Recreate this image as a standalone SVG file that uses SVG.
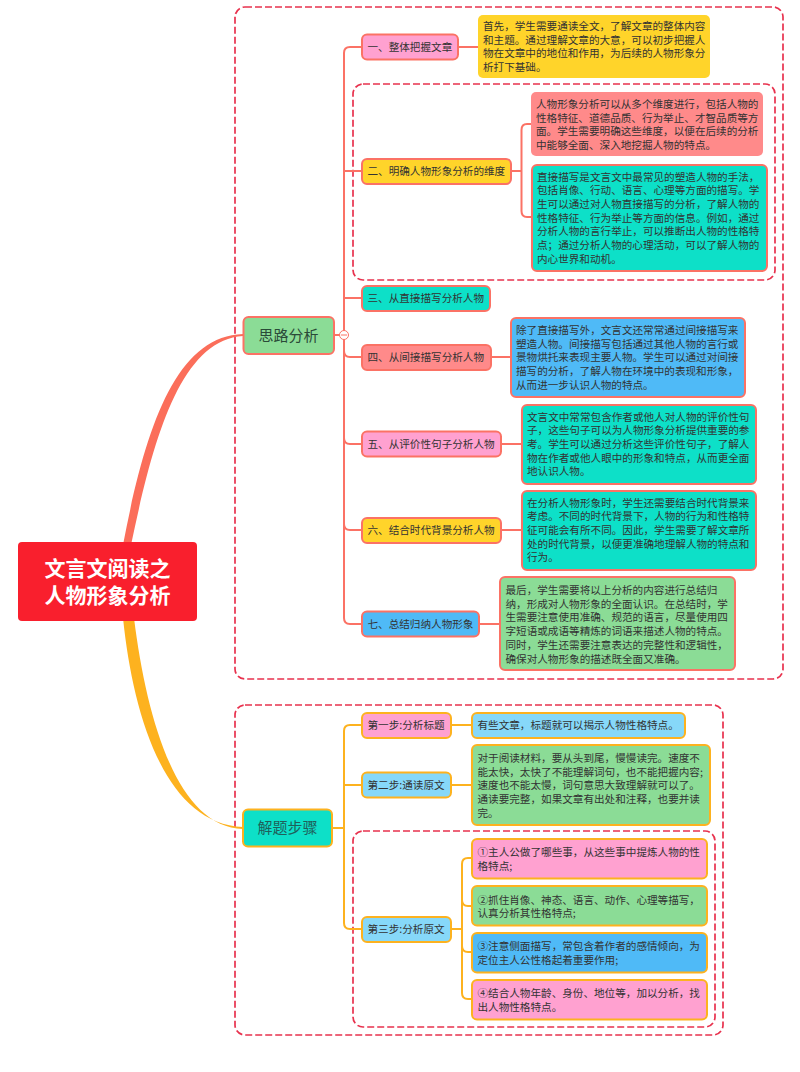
<svg xmlns="http://www.w3.org/2000/svg" width="800" height="1072" viewBox="0 0 800 1072">
<style>
text{font-family:"Noto Sans CJK SC","Noto Sans",sans-serif;font-size:10.6px;fill:#333}
.m{font-size:15px;text-anchor:middle;fill:#2a4a38}
.r{font-size:21px;font-weight:700;fill:#fff;text-anchor:middle}
.dash{fill:none;stroke:#e8324e;stroke-width:1.7;stroke-dasharray:7 3}
.lr{fill:none;stroke:#fb7265;stroke-width:2}
.lo{fill:none;stroke:#fdb21f;stroke-width:2}
.n{stroke-width:2}
.sr{stroke:#fb7265}.so{stroke:#fdb21f}
.pink{fill:#ffa1d0}.yel{fill:#ffd42a}.sal{fill:#ff8a8a}.teal{fill:#0de0c8}.blue{fill:#4fbaf7}.grn{fill:#8bdc96}.lb{fill:#86d8f9}
</style>
<g id="frames">
<rect class="dash" x="235" y="7" width="548" height="672" rx="10"/>
<rect class="dash" x="353" y="84" width="422" height="196" rx="10"/>
<rect class="dash" x="235" y="705" width="488" height="330" rx="10"/>
<rect class="dash" x="353" y="831" width="362" height="196" rx="10"/>
</g>
<g id="connectors">
<path d="M123 545C145 430 175 336 243 334V336C180 340 153 440 131 545Z" fill="#fb6e5a"/>
<path d="M123 618C133 715 165 824 243 827V829C178 827 147 722 134 618Z" fill="#fdb21f"/>
<path class="lr" d="M334 335H344M458 47H478M511 171H522M491 357H511M501 444H522M501 530H522M479 624H500"/>
<path class="lr" d="M362 47H350Q344 47 344 53V618Q344 624 350 624H362M344 171H362M344 298H362M344 351Q344 357 350 357H362M344 438Q344 444 350 444H362M344 524Q344 530 350 530H362"/>
<path class="lr" d="M531 124H527Q521.500 124 521.500 130V211Q521.500 217 527 217H532"/>
<path class="lo" d="M332 828H344M451 725H472M451 785H472M451 929H462"/>
<path class="lo" d="M362 725H350Q344 725 344 731V923Q344 929 350 929H362M344 785H362"/>
<path class="lo" d="M472 858H468Q462 858 462 864V993Q462 999 468 999H472M462 900Q462 906 468 906H472M462 946Q462 952 468 952H472"/>
<circle cx="344" cy="335" r="4.500" fill="#fff" stroke="#fb7265"/>
<path d="M341 335H347" stroke="#fb7265" fill="none"/>
</g>
<g id="root"><rect x="18" y="542" width="179" height="79" rx="4" fill="#f91f2d"/><text class="r"><tspan x="107.500" y="575.500">文言文阅读之</tspan><tspan x="107.500" y="602.500">人物形象分析</tspan></text></g>
<g id="n-silu"><rect class="n sr grn" x="243.500" y="317" width="90.500" height="37" rx="5"/><text class="m" x="288.500" y="340.500">思路分析</text></g>
<g id="n-jieti"><rect class="n so teal" x="243" y="809.500" width="89" height="37" rx="5"/><text class="m" x="287.500" y="833" style="fill:#1f5f5a">解题步骤</text></g>
<g id="n1"><rect class="n sr pink" x="362" y="34.500" width="96" height="25" rx="5"/><text x="367.500" y="51">一、整体把握文章</text></g>
<g id="n1a"><rect class="yel" x="478" y="15" width="232" height="63" rx="5"/><text x="483" y="30">首先，学生需要通读全文，了解文章的整体内容</text><text x="483" y="43.700">和主题。通过理解文章的大意，可以初步把握人</text><text x="483" y="57.400">物在文章中的地位和作用，为后续的人物形象分</text><text x="483" y="71.100">析打下基础。</text></g>
<g id="n2"><rect class="n sr yel" x="362" y="159" width="149" height="25" rx="5"/><text x="367.500" y="175">二、明确人物形象分析的维度</text></g>
<g id="n2a"><rect class="sal" x="531" y="92" width="232" height="64" rx="5"/><text x="536" y="108">人物形象分析可以从多个维度进行，包括人物的</text><text x="536" y="121.700">性格特征、道德品质、行为举止、才智品质等方</text><text x="536" y="135.400">面。学生需要明确这些维度，以便在后续的分析</text><text x="536" y="149.100">中能够全面、深入地挖掘人物的特点。</text></g>
<g id="n2b"><rect class="n sr teal" x="532" y="165" width="235" height="106" rx="5"/><text x="537" y="180.500">直接描写是文言文中最常见的塑造人物的手法，</text><text x="537" y="194.200">包括肖像、行动、语言、心理等方面的描写。学</text><text x="537" y="207.900">生可以通过对人物直接描写的分析，了解人物的</text><text x="537" y="221.600">性格特征、行为举止等方面的信息。例如，通过</text><text x="537" y="235.300">分析人物的言行举止，可以推断出人物的性格特</text><text x="537" y="249">点；通过分析人物的心理活动，可以了解人物的</text><text x="537" y="262.700">内心世界和动机。</text></g>
<g id="n3"><rect class="n sr teal" x="362" y="286" width="128" height="25" rx="5"/><text x="367.500" y="302">三、从直接描写分析人物</text></g>
<g id="n4"><rect class="n sr sal" x="362" y="345" width="129" height="25" rx="5"/><text x="367.500" y="361">四、从间接描写分析人物</text></g>
<g id="n4a"><rect class="n sr blue" x="511" y="318" width="234" height="79" rx="5"/><text x="516" y="334">除了直接描写外，文言文还常常通过间接描写来</text><text x="516" y="347.700">塑造人物。间接描写包括通过其他人物的言行或</text><text x="516" y="361.400">景物烘托来表现主要人物。学生可以通过对间接</text><text x="516" y="375.100">描写的分析，了解人物在环境中的表现和形象，</text><text x="516" y="388.800">从而进一步认识人物的特点。</text></g>
<g id="n5"><rect class="n sr pink" x="362" y="431.500" width="139" height="25" rx="5"/><text x="367.500" y="448">五、从评价性句子分析人物</text></g>
<g id="n5a"><rect class="n sr teal" x="522" y="405" width="234" height="79" rx="5"/><text x="527" y="420.500">文言文中常常包含作者或他人对人物的评价性句</text><text x="527" y="434.200">子，这些句子可以为人物形象分析提供重要的参</text><text x="527" y="447.900">考。学生可以通过分析这些评价性句子，了解人</text><text x="527" y="461.600">物在作者或他人眼中的形象和特点，从而更全面</text><text x="527" y="475.300">地认识人物。</text></g>
<g id="n6"><rect class="n sr yel" x="362" y="518" width="139" height="25" rx="5"/><text x="367.500" y="534">六、结合时代背景分析人物</text></g>
<g id="n6a"><rect class="n sr teal" x="522" y="491" width="234" height="79" rx="5"/><text x="527" y="506.500">在分析人物形象时，学生还需要结合时代背景来</text><text x="527" y="520.200">考虑。不同的时代背景下，人物的行为和性格特</text><text x="527" y="533.900">征可能会有所不同。因此，学生需要了解文章所</text><text x="527" y="547.600">处的时代背景，以便更准确地理解人物的特点和</text><text x="527" y="561.300">行为。</text></g>
<g id="n7"><rect class="n sr blue" x="362" y="611.500" width="117" height="25" rx="5"/><text x="367.500" y="628">七、总结归纳人物形象</text></g>
<g id="n7a"><rect class="n sr grn" x="500" y="577" width="235" height="93" rx="5"/><text x="505.500" y="594">最后，学生需要将以上分析的内容进行总结归</text><text x="505.500" y="607.700">纳，形成对人物形象的全面认识。在总结时，学</text><text x="505.500" y="621.400">生需要注意使用准确、规范的语言，尽量使用四</text><text x="505.500" y="635.100">字短语或成语等精炼的词语来描述人物的特点。</text><text x="505.500" y="648.800">同时，学生还需要注意表达的完整性和逻辑性，</text><text x="505.500" y="662.500">确保对人物形象的描述既全面又准确。</text></g>
<g id="s1"><rect class="n so pink" x="362" y="713" width="89" height="25" rx="5"/><text x="367.500" y="729">第一步:分析标题</text></g>
<g id="s1a"><rect class="n so lb" x="472" y="713" width="213" height="25" rx="5"/><text x="477.500" y="729">有些文章，标题就可以揭示人物性格特点。</text></g>
<g id="s2"><rect class="n so lb" x="362" y="772.500" width="89" height="25" rx="5"/><text x="367.500" y="789">第二步:通读原文</text></g>
<g id="s2a"><rect class="n so grn" x="472" y="745" width="238" height="80" rx="5"/><text x="477.500" y="762">对于阅读材料，要从头到尾，慢慢读完。速度不</text><text x="477.500" y="775.700">能太快，太快了不能理解词句，也不能把握内容;</text><text x="477.500" y="789.400">速度也不能太慢，词句意思大致理解就可以了。</text><text x="477.500" y="803.100">通读要完整，如果文章有出处和注释，也要并读</text><text x="477.500" y="816.800">完。</text></g>
<g id="s3"><rect class="n so lb" x="362" y="917" width="89" height="25" rx="5"/><text x="367.500" y="933">第三步:分析原文</text></g>
<g id="s3a"><rect class="n so pink" x="472" y="839" width="235" height="39.500" rx="5"/><text x="477.500" y="856">①主人公做了哪些事，从这些事中提炼人物的性</text><text x="477.500" y="870">格特点;</text></g>
<g id="s3b"><rect class="n so grn" x="472" y="886" width="235" height="39.500" rx="5"/><text x="477.500" y="903.500">②抓住肖像、神态、语言、动作、心理等描写，</text><text x="477.500" y="917">认真分析其性格特点;</text></g>
<g id="s3c"><rect class="n so blue" x="472" y="933" width="235" height="39.500" rx="5"/><text x="477.500" y="950">③注意侧面描写，常包含着作者的感情倾向，为</text><text x="477.500" y="964">定位主人公性格起着重要作用;</text></g>
<g id="s3d"><rect class="n so pink" x="472" y="980" width="235" height="39.500" rx="5"/><text x="477.500" y="997">④结合人物年龄、身份、地位等，加以分析，找</text><text x="477.500" y="1011">出人物性格特点。</text></g>
</svg>
